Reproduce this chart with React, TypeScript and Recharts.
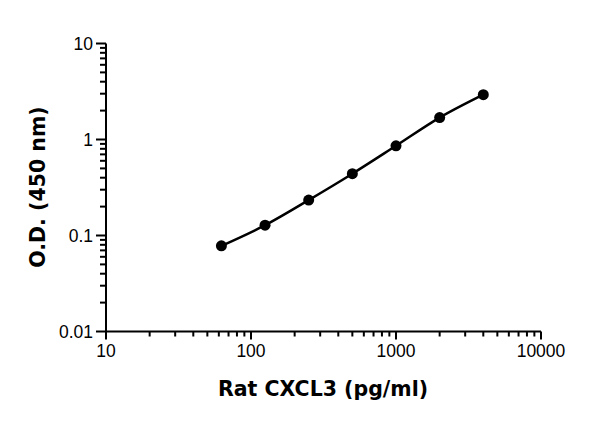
import React from 'react';
import { LineChart, Line, XAxis, YAxis, Label } from 'recharts';

// standard curve: concentration (pg/ml) vs optical density
const concentrations = [62.5, 125, 250, 500, 1000, 2000, 4000];
const odValues = [0.078, 0.128, 0.234, 0.44, 0.86, 1.69, 2.93];

const xMajorTicks = [10, 100, 1000, 10000];
const xTicks = [
  10, 20, 30, 40, 50, 60, 70, 80, 90,
  100, 200, 300, 400, 500, 600, 700, 800, 900,
  1000, 2000, 3000, 4000, 5000, 6000, 7000, 8000, 9000,
  10000,
];
const yMajorTicks = [0.01, 0.1, 1, 10];
const yTicks = [
  0.01, 0.02, 0.03, 0.04, 0.05, 0.06, 0.07, 0.08, 0.09,
  0.1, 0.2, 0.3, 0.4, 0.5, 0.6, 0.7, 0.8, 0.9,
  1, 2, 3, 4, 5, 6, 7, 8, 9,
  10,
];

const data = concentrations.map((c, i) => ({ conc: c, od: odValues[i] }));

const tickStyle = { fontFamily: "'Liberation Sans', Arial, sans-serif", fontSize: 17.5 };
const titleStyle = { fontFamily: "'DejaVu Sans', sans-serif", fontSize: 20.5, fontWeight: 700 };

function XTick(props: any) {
  const { x, y, payload } = props;
  const major = xMajorTicks.includes(payload.value);
  return (
    <g>
      <line x1={x} x2={x} y1={y} y2={y + (major ? 8 : 5)} stroke="#000" strokeWidth={2} />
      {major && (
        <text x={x} y={y + 25} textAnchor="middle" style={tickStyle} fill="#000">
          {payload.value}
        </text>
      )}
    </g>
  );
}

function YTick(props: any) {
  const { x, y, payload } = props;
  const major = yMajorTicks.includes(payload.value);
  return (
    <g>
      <line x1={x - (major ? 10 : 6)} x2={x} y1={y} y2={y} stroke="#000" strokeWidth={2} />
      {major && (
        <text x={x - 13} y={y + 6} textAnchor="end" style={tickStyle} fill="#000">
          {payload.value}
        </text>
      )}
    </g>
  );
}

export default function App() {
  return (
    <div style={{ position: 'absolute', left: 0, top: 0, background: '#fff' }}>
      <LineChart width={600} height={421} data={data} margin={{ top: 43.5, right: 59, bottom: 0, left: 0 }}>
        <XAxis
          dataKey="conc"
          type="number"
          scale="log"
          domain={[10, 10000]}
          ticks={xTicks}
          interval={0}
          tickSize={0}
          tickMargin={0}
          tickLine={false}
          tick={<XTick />}
          axisLine={{ stroke: '#000', strokeWidth: 2 }}
          height={89.5}
          allowDataOverflow
        >
          <Label
            content={() => (
              <text x={323} y={396} textAnchor="middle" style={titleStyle} fill="#000">
                Rat CXCL3 (pg/ml)
              </text>
            )}
          />
        </XAxis>
        <YAxis
          dataKey="od"
          type="number"
          scale="log"
          domain={[0.01, 10]}
          ticks={yTicks}
          interval={0}
          tickSize={0}
          tickMargin={0}
          tickLine={false}
          tick={<YTick />}
          axisLine={{ stroke: '#000', strokeWidth: 2 }}
          width={106}
          allowDataOverflow
        >
          <Label
            content={() => (
              <text
                x={45}
                y={187}
                transform="rotate(-90 45 187)"
                textAnchor="middle"
                style={titleStyle}
                fill="#000"
              >
                O.D. (450 nm)
              </text>
            )}
          />
        </YAxis>
        <Line
          type="monotone"
          dataKey="od"
          stroke="#000"
          strokeWidth={2.5}
          dot={{ r: 5.5, fill: '#000', stroke: '#000', strokeWidth: 0 }}
          isAnimationActive={false}
        />
      </LineChart>
    </div>
  );
}
